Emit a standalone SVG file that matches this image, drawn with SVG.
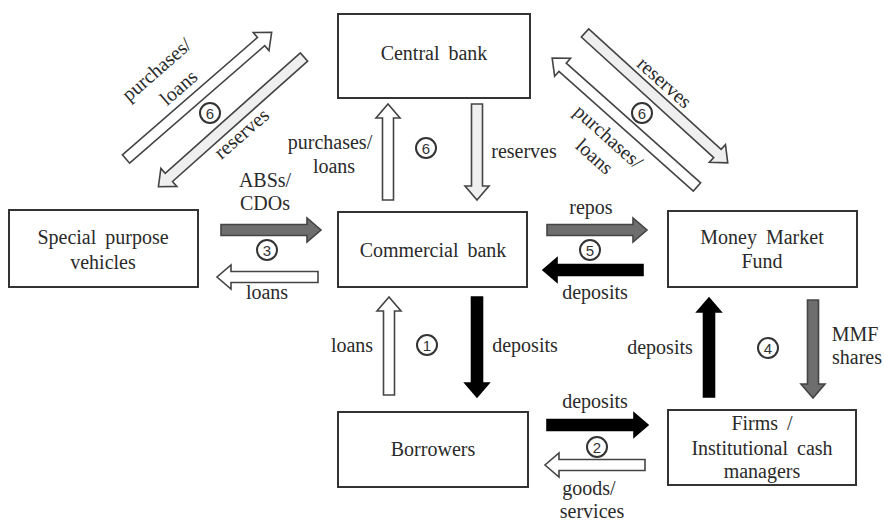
<svg xmlns="http://www.w3.org/2000/svg" width="884" height="522" viewBox="0 0 884 522">
  <style>
    .box { fill: #ffffff; stroke: #333333; stroke-width: 2; }
    .t { font-family: "Liberation Serif", Tinos, "DejaVu Serif", serif; font-size: 20px; fill: #2a2a2a; text-anchor: middle; word-spacing: 4px; }
    .lbl { font-family: "Liberation Serif", Tinos, "DejaVu Serif", serif; font-size: 20px; fill: #2a2a2a; text-anchor: middle; }
    .num circle { fill: #ffffff; stroke: #333333; stroke-width: 2; }
    .num text { font-family: "Liberation Sans", Arimo, sans-serif; font-size: 15px; fill: #333333; text-anchor: middle; }
    .a { stroke: #444444; stroke-width: 1.6; stroke-linejoin: miter; }
    .white { fill: #ffffff; }
    .light { fill: #efefef; }
    .gray { fill: #6e6e6e; }
    .black { fill: #000000; stroke: #000000; }
  </style>

  <rect width="884" height="522" fill="#ffffff"/>

  <!-- connectors: each block arrow is drawn pointing along +x from its tail at the origin -->
  <g id="connectors">
    <!-- Special purpose vehicles <-> Commercial bank -->
    <polygon class="a gray" transform="translate(221,230)" points="0,-5.5 86,-5.5 86,-12 100,0 86,12 86,5.5 0,5.5"/>
    <polygon class="a white" transform="translate(318,277) rotate(180)" points="0,-5.5 87,-5.5 87,-12 101,0 87,12 87,5.5 0,5.5"/>
    <!-- Commercial bank <-> Money Market Fund -->
    <polygon class="a gray" transform="translate(547,230)" points="0,-5.5 86,-5.5 86,-12 100,0 86,12 86,5.5 0,5.5"/>
    <polygon class="a black" transform="translate(643,270) rotate(180)" points="0,-5.5 86,-5.5 86,-12 100,0 86,12 86,5.5 0,5.5"/>
    <!-- Borrowers <-> Firms -->
    <polygon class="a black" transform="translate(547,425)" points="0,-5.5 87,-5.5 87,-12 101,0 87,12 87,5.5 0,5.5"/>
    <polygon class="a white" transform="translate(645,465) rotate(180)" points="0,-5.5 86,-5.5 86,-12 100,0 86,12 86,5.5 0,5.5"/>
    <!-- Central bank <-> Commercial bank -->
    <polygon class="a white" transform="translate(388,200) rotate(-90)" points="0,-5.5 82,-5.5 82,-12 96,0 82,12 82,5.5 0,5.5"/>
    <polygon class="a light" transform="translate(477,104) rotate(90)" points="0,-5.5 82,-5.5 82,-12 96,0 82,12 82,5.5 0,5.5"/>
    <!-- Commercial bank <-> Borrowers -->
    <polygon class="a white" transform="translate(389,395) rotate(-90)" points="0,-5.5 84,-5.5 84,-12 98,0 84,12 84,5.5 0,5.5"/>
    <polygon class="a black" transform="translate(477,297) rotate(90)" points="0,-5.5 86,-5.5 86,-12 100,0 86,12 86,5.5 0,5.5"/>
    <!-- Firms <-> Money Market Fund -->
    <polygon class="a black" transform="translate(709,397) rotate(-90)" points="0,-5.5 85,-5.5 85,-12 99,0 85,12 85,5.5 0,5.5"/>
    <polygon class="a gray" transform="translate(813,300) rotate(90)" points="0,-5.5 84,-5.5 84,-12 98,0 84,12 84,5.5 0,5.5"/>
    <!-- Central bank <-> Special purpose vehicles -->
    <polygon class="a white" transform="translate(126,159) rotate(-41)" points="0,-5.5 179,-5.5 179,-12 193,0 179,12 179,5.5 0,5.5"/>
    <polygon class="a light" transform="translate(304,57) rotate(138.3)" points="0,-5.5 181,-5.5 181,-12 195,0 181,12 181,5.5 0,5.5"/>
    <!-- Central bank <-> Money Market Fund -->
    <polygon class="a light" transform="translate(585,33) rotate(42.3)" points="0,-5.5 179,-5.5 179,-12 193,0 179,12 179,5.5 0,5.5"/>
    <polygon class="a white" transform="translate(697,187) rotate(221.7)" points="0,-5.5 180,-5.5 180,-12 194,0 180,12 180,5.5 0,5.5"/>
  </g>

  <!-- flow labels -->
  <g id="labels">
    <text class="lbl" x="265" y="187">ABSs/</text>
    <text class="lbl" x="265" y="210">CDOs</text>
    <text class="lbl" x="267" y="299">loans</text>
    <text class="lbl" x="591" y="214">repos</text>
    <text class="lbl" x="595" y="299">deposits</text>
    <text class="lbl" x="330" y="149">purchases/</text>
    <text class="lbl" x="334" y="173">loans</text>
    <text class="lbl" x="524" y="158">reserves</text>
    <text class="lbl" x="352" y="352">loans</text>
    <text class="lbl" x="525" y="352">deposits</text>
    <text class="lbl" x="595" y="408">deposits</text>
    <text class="lbl" x="589" y="495">goods/</text>
    <text class="lbl" x="592" y="518">services</text>
    <text class="lbl" x="660" y="354">deposits</text>
    <text class="lbl" x="855" y="341">MMF</text>
    <text class="lbl" x="857" y="364">shares</text>
    <text class="lbl" transform="translate(157,70) rotate(-41)" y="6">purchases/</text>
    <text class="lbl" transform="translate(179,88) rotate(-41)" y="6">loans</text>
    <text class="lbl" transform="translate(242,134) rotate(-41)" y="6">reserves</text>
    <text class="lbl" transform="translate(664,83) rotate(42)" y="6">reserves</text>
    <text class="lbl" transform="translate(608,137) rotate(42)" y="6">purchases/</text>
    <text class="lbl" transform="translate(594,157) rotate(42)" y="6">loans</text>
  </g>

  <!-- numbered flow markers -->
  <g id="markers">
    <g class="num"><circle cx="210" cy="113" r="10"/><text x="210" y="118.5">6</text></g>
    <g class="num"><circle cx="426" cy="148" r="10"/><text x="426" y="153.5">6</text></g>
    <g class="num"><circle cx="642" cy="113" r="10"/><text x="642" y="118.5">6</text></g>
    <g class="num"><circle cx="267" cy="250" r="10"/><text x="267" y="255.5">3</text></g>
    <g class="num"><circle cx="590" cy="250" r="10"/><text x="590" y="255.5">5</text></g>
    <g class="num"><circle cx="427" cy="345" r="10"/><text x="427" y="350.5">1</text></g>
    <g class="num"><circle cx="597" cy="447" r="10"/><text x="597" y="452.5">2</text></g>
    <g class="num"><circle cx="768" cy="348" r="10"/><text x="768" y="353.5">4</text></g>
  </g>

  <!-- nodes -->
  <g id="central-bank">
    <rect class="box" x="338" y="14" width="192" height="84"/>
    <text class="t" x="434" y="60">Central bank</text>
  </g>
  <g id="commercial-bank">
    <rect class="box" x="338" y="212" width="189" height="75"/>
    <text class="t" x="433" y="257">Commercial bank</text>
  </g>
  <g id="special-purpose-vehicles">
    <rect class="box" x="9" y="210" width="189" height="77"/>
    <text class="t" x="103" y="244">Special purpose</text>
    <text class="t" x="103" y="269">vehicles</text>
  </g>
  <g id="money-market-fund">
    <rect class="box" x="668" y="211" width="189" height="76"/>
    <text class="t" x="762" y="244">Money Market</text>
    <text class="t" x="762" y="268">Fund</text>
  </g>
  <g id="borrowers">
    <rect class="box" x="338" y="412" width="190" height="75"/>
    <text class="t" x="433" y="456">Borrowers</text>
  </g>
  <g id="firms">
    <rect class="box" x="668" y="410" width="188" height="75"/>
    <text class="t" x="762" y="430">Firms /</text>
    <text class="t" x="762" y="455">Institutional cash</text>
    <text class="t" x="762" y="478">managers</text>
  </g>
</svg>
